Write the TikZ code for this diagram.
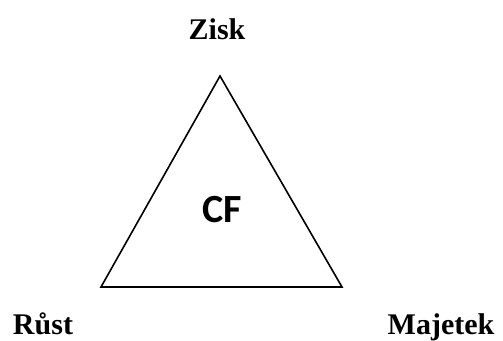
\documentclass[tikz,border=0pt]{standalone}
\usepackage{fontspec}
\setmainfont{Liberation Serif}
\newfontfamily\cffont{Carlito}
\tikzset{
  lbl/.style={anchor=base, inner sep=0pt, font=\fontsize{30}{36}\selectfont\bfseries},
  cflbl/.style={inner sep=0pt, font=\fontsize{40}{48}\selectfont\cffont\bfseries},
  tri/.style={draw=black, line width=1.6pt, line join=miter}
}
\begin{document}
\begin{tikzpicture}[x=1pt,y=-1pt]
\useasboundingbox (0,0) rectangle (503,340);
\coordinate (top) at (220,76);
\coordinate (bl) at (101,287);
\coordinate (br) at (342,287);
\draw[tri] (top) -- (bl) -- (br) -- cycle;
\node[lbl] (zisk) at (217,39) {Zisk};
\node[lbl] (rust) at (43,334) {Růst};
\node[lbl] (majetek) at (441,334) {Majetek};
\node[cflbl] (cf) at (222,210) {CF};
\end{tikzpicture}
\end{document}
